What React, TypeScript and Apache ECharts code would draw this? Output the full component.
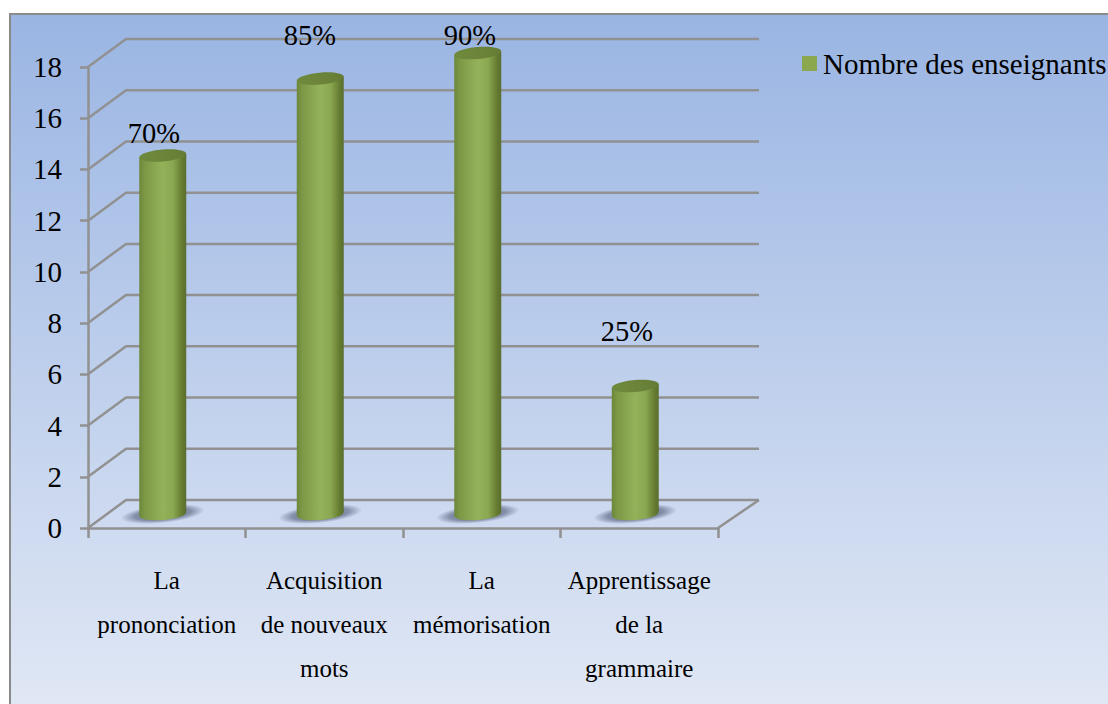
import React, { useEffect, useRef } from "react";
import * as echarts from "echarts";

const categories = ["La\nprononciation", "Acquisition\nde nouveaux\nmots", "La\nmémorisation", "Apprentissage\nde la\ngrammaire"];
const values = [14, 17, 18, 5];
const percentLabels = ["70%", "85%", "90%", "25%"];
const tickValues = [0, 2, 4, 6, 8, 10, 12, 14, 16, 18];
const seriesName = "Nombre des enseignants";

const labelShift = [[-13, -36], [-14.5, -57], [-12, -32], [-12.5, -68]];
const FONT = '"Liberation Serif", "Times New Roman", serif';
const GRAY = "#919191";
const LINE = 2.5;
const DEPTH_X = 38;
const DEPTH_Y = 28;

const bodyFill = () =>
  new echarts.graphic.LinearGradient(0, 0, 1, 0, [
    { offset: 0, color: "#6d873a" },
    { offset: 0.12, color: "#7d9846" },
    { offset: 0.5, color: "#94b25a" },
    { offset: 0.72, color: "#8aa751" },
    { offset: 0.92, color: "#64792f" },
    { offset: 1, color: "#5a6f30" },
  ]);

export default function App() {
  const ref = useRef<HTMLDivElement>(null);
  useEffect(() => {
    const chart = echarts.init(ref.current!, null, { renderer: "svg" });
    chart.setOption({
      animation: false,
      backgroundColor: "#ffffff",
      textStyle: { fontFamily: FONT },
      graphic: [
        {
          type: "rect",
          z: -10,
          silent: true,
          shape: { x: 10, y: 14, width: 1110, height: 700 },
          style: {
            stroke: "#8a8a8a",
            lineWidth: 2,
            fill: new echarts.graphic.LinearGradient(0, 0, 0, 1, [
              { offset: 0, color: "#9ab5e3" },
              { offset: 1, color: "#e1e8f5" },
            ]),
          },
        },
      ],
      legend: {
        left: 797,
        top: 44,
        itemWidth: 15,
        itemHeight: 15,
        itemGap: 0,
        selectedMode: false,
        data: [{ name: seriesName, icon: "rect", itemStyle: { color: "#8ba84f" } }],
        textStyle: { fontFamily: FONT, fontSize: 29, color: "#000", padding: [0, 0, 0, 1] },
      },
      grid: { left: 88, top: 67, width: 630, height: 461 },
      xAxis: {
        type: "category",
        data: categories,
        axisLine: { lineStyle: { color: GRAY, width: LINE } },
        axisTick: { show: true, length: 10, lineStyle: { color: GRAY, width: LINE } },
        axisLabel: {
          interval: 0,
          hideOverlap: false,
          margin: 30,
          color: "#000",
          fontFamily: FONT,
          fontSize: 25,
          lineHeight: 44,
          verticalAlign: "top",
        },
      },
      yAxis: {
        type: "value",
        min: 0,
        max: 18,
        interval: 2,
        axisLine: { show: true, lineStyle: { color: GRAY, width: LINE } },
        axisTick: { show: true, length: 8, lineStyle: { color: GRAY, width: LINE } },
        splitLine: { show: false },
        axisLabel: { margin: 26, color: "#000", fontFamily: FONT, fontSize: 29, padding: [2, 0, 0, 0] },
      },
      series: [
        {
          type: "custom",
          name: "grille",
          z: 1,
          silent: true,
          clip: false,
          encode: { x: 0, y: 1 },
          data: tickValues.map((t) => [0, t]),
          renderItem: (params: any, api: any) => {
            const y = api.coord([0, api.value(1)])[1];
            const left = params.coordSys.x;
            const right = left + params.coordSys.width;
            const children: any[] = [
              {
                type: "polyline",
                shape: { points: [[left, y], [left + DEPTH_X, y - DEPTH_Y], [right + DEPTH_X + 3, y - DEPTH_Y]] },
                style: { stroke: GRAY, lineWidth: LINE, fill: "none" },
              },
            ];
            if (api.value(1) === 0) {
              children.push({
                type: "line",
                shape: { x1: right, y1: y, x2: right + DEPTH_X + 3, y2: y - DEPTH_Y },
                style: { stroke: GRAY, lineWidth: LINE },
              });
            }
            return { type: "group", children };
          },
        },
        {
          type: "custom",
          name: seriesName,
          z: 5,
          silent: true,
          clip: false,
          itemStyle: { color: "#8ba84f" },
          encode: { x: 0, y: 1 },
          data: values.map((v, i) => [i, v]),
          renderItem: (params: any, api: any) => {
            const i = api.value(0);
            const [ax, ay] = api.coord([i, api.value(1)]);
            const [, by] = api.coord([i, 0]);
            const r = 23.5;
            const cx = ax - 4;
            const top = ay - 14;
            const bot = by - 14;
            const tilt = 2;
            return {
              type: "group",
              children: [
                {
                  type: "ellipse",
                  x: cx,
                  y: bot,
                  rotation: 0.1,
                  shape: { cx: 0, cy: 0, rx: 42, ry: 9 },
                  style: {
                    fill: new echarts.graphic.RadialGradient(0.5, 0.5, 0.5, [
                      { offset: 0, color: "rgba(100,110,138,0.8)" },
                      { offset: 0.66, color: "rgba(100,110,138,0.72)" },
                      { offset: 1, color: "rgba(100,110,138,0)" },
                    ]),
                  },
                },
                {
                  type: "ellipse",
                  x: cx,
                  y: bot,
                  rotation: 0.085,
                  shape: { cx: 0, cy: 0, rx: r, ry: 6 },
                  style: { fill: bodyFill() },
                },
                {
                  type: "polygon",
                  shape: {
                    points: [
                      [cx - r, top + tilt],
                      [cx + r, top - tilt],
                      [cx + r, bot - tilt],
                      [cx - r, bot + tilt],
                    ],
                  },
                  style: { fill: bodyFill() },
                },
                {
                  type: "ellipse",
                  x: cx,
                  y: top,
                  rotation: 0.085,
                  shape: { cx: 0, cy: 0, rx: r, ry: 6 },
                  style: {
                    fill: new echarts.graphic.LinearGradient(0, 0, 1, 0, [
                      { offset: 0, color: "#6f8a3c" },
                      { offset: 0.5, color: "#6c843a" },
                      { offset: 1, color: "#667c36" },
                    ]),
                  },
                },
                {
                  type: "text",
                  style: {
                    text: percentLabels[i],
                    x: ax + labelShift[i][0],
                    y: ay + labelShift[i][1],
                    font: `28.5px ${FONT}`,
                    fill: "#000",
                    align: "center",
                    verticalAlign: "middle",
                  },
                },
              ],
            };
          },
        },
      ],
    });
    return () => chart.dispose();
  }, []);
  return <div ref={ref} style={{ position: "absolute", left: 0, top: 0, width: 1108, height: 704 }} />;
}
